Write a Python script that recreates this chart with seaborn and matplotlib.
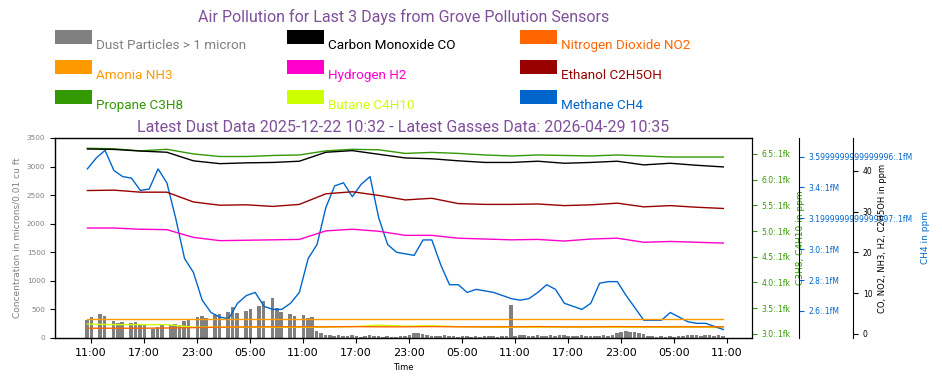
import pandas as pd
import seaborn as sns
import matplotlib.pyplot as plt
import matplotlib.dates as mdates
import matplotlib.patches as mpatches
from matplotlib.legend_handler import HandlerPatch
from matplotlib.ticker import FixedLocator, FixedFormatter

# dust sensor, every 30 min (microns / 0.01 cu ft)
dust_start = "2026-04-26 10:32"
dust = [320, 360, 0, 420, 380, 0, 300,
        270, 280, 0, 260, 280, 250,
        230, 0, 150, 200, 240, 0, 220, 250, 230,
        300, 320, 0,
        360, 380, 350, 0,
        400, 420, 0, 450, 550, 430, 0, 480,
        500, 0, 560, 650, 0, 700, 520,
        450, 0, 420, 380, 0, 400, 350, 370,
        120, 80, 60, 50, 40, 60, 40, 30, 50, 30, 20, 40, 60, 40, 30, 20, 30, 20, 20,
        30, 40,
        60, 80, 90, 70, 50, 40,
        40, 30, 50, 40, 30, 20, 30, 40, 20, 30, 20, 30, 40, 30, 20, 30, 40,
        580,
        40, 60, 50, 40, 30, 50, 40, 30, 50, 40, 60, 50, 40, 30,
        40, 50, 30, 40, 30, 40, 50, 40, 60, 80,
        110, 120, 100, 110, 90, 70,
        40, 30, 20, 30, 20, 30, 20, 30, 40,
        50, 60, 50, 40, 50, 60, 40, 50, 30]

# gas sensors, every 3 h (ppm)
gas_start = "2026-04-26 10:35"
propane = [6.61, 6.60, 6.56, 6.59, 6.50, 6.45, 6.45, 6.47, 6.48, 6.56, 6.59, 6.58, 6.51,
           6.53, 6.51, 6.48, 6.46, 6.48, 6.47, 6.46, 6.48, 6.46, 6.44, 6.44, 6.44]
butane = [3.19, 3.18, 3.18, 3.18, 3.13, 3.13, 3.13, 3.13, 3.13, 3.13, 3.14, 3.17, 3.15,
          3.16, 3.14, 3.13, 3.13, 3.13, 3.13, 3.13, 3.13, 3.13, 3.13, 3.13, 3.12]
co = [45.4, 45.3, 44.9, 44.6, 42.5, 41.8, 42.0, 42.1, 42.4, 44.6, 45.0, 44.1, 43.2,
      43.0, 42.5, 42.1, 42.1, 42.4, 41.9, 42.1, 42.4, 41.5, 41.9, 41.4, 41.0]
ethanol = [35.2, 35.3, 34.8, 34.8, 32.4, 31.6, 31.7, 31.3, 31.8, 34.4, 34.9, 34.0, 32.9,
           33.3, 32.0, 31.8, 31.8, 31.9, 31.5, 31.7, 32.1, 31.2, 31.5, 31.1, 30.8]
hydrogen = [26.0, 26.0, 25.7, 25.6, 23.7, 22.9, 23.0, 23.1, 23.2, 25.3, 25.7, 25.2, 24.2,
            24.2, 23.5, 23.3, 23.1, 23.2, 22.8, 23.3, 23.5, 22.5, 22.7, 22.5, 22.3]
ammonia = [3.6, 3.6, 3.6, 3.6, 3.6, 3.6, 3.6, 3.6, 3.6, 3.6, 3.6, 3.6, 3.6,
           3.6, 3.6, 3.6, 3.6, 3.6, 3.6, 3.6, 3.6, 3.6, 3.6, 3.6, 3.6]
no2 = [1.4, 1.4, 1.4, 1.45, 1.55, 1.65, 1.7, 1.75, 1.75, 1.75, 1.8, 1.75, 1.75,
       1.8, 1.75, 1.75, 1.75, 1.8, 1.75, 1.75, 1.8, 1.75, 1.75, 1.75, 1.75]

# methane, hourly (ppm)
methane = [3.52, 3.59, 3.64, 3.51, 3.47, 3.46, 3.38, 3.39, 3.52, 3.43,
           3.20, 2.94, 2.85, 2.67, 2.59, 2.56, 2.55, 2.65, 2.70, 2.72,
           2.63, 2.61, 2.61, 2.65, 2.72, 2.94, 3.03, 3.27, 3.41, 3.43,
           3.34, 3.42, 3.47, 3.20, 3.03, 2.98, 2.97, 2.96, 3.06, 3.06,
           2.90, 2.77, 2.77, 2.72, 2.74, 2.73, 2.72, 2.70, 2.68, 2.67,
           2.68, 2.72, 2.77, 2.74, 2.65, 2.63, 2.61, 2.65, 2.78, 2.79,
           2.79, 2.70, 2.62, 2.54, 2.54, 2.54, 2.59, 2.56, 2.53, 2.52,
           2.52, 2.50, 2.48]

c3_ticks = [3.0, 3.5, 4.0, 4.5, 5.0, 5.5, 6.0, 6.5]
c3_labels = ["3.0:.1fk", "3.5:.1fk", "4.0:.1fk", "4.5:.1fk", "5.0:.1fk", "5.5:.1fk", "6.0:.1fk", "6.5:.1fk"]
ch4_ticks = [2.6, 2.8, 3.0, 3.2, 3.4, 3.6]
ch4_labels = ["2.6:.1fM", "2.8:.1fM", "3.0:.1fM", "3.1999999999999997:.1fM", "3.4:.1fM",
              "3.5999999999999996:.1fM"]

names = [["Dust Particles > 1 micron", "Amonia NH3", "Propane C3H8"],
         ["Carbon Monoxide CO", "Hydrogen H2", "Butane C4H10"],
         ["Nitrogen Dioxide NO2", "Ethanol C2H5OH", "Methane CH4"]]
colors = [["gray", "#ff9900", "#339900"],
          ["black", "#ff00cc", "#ccff00"],
          ["#ff6600", "#990000", "#0066cc"]]
purple = "#7f4f9a"


class RaisedPatch(HandlerPatch):
    # legend box sits higher than its label, as in the original
    def create_artists(self, legend, orig_handle, xdescent, ydescent, width, height, fontsize, trans):
        p = mpatches.Rectangle((-xdescent, -ydescent + 5.5), width, height,
                               facecolor=orig_handle.get_facecolor(), edgecolor="none", transform=trans)
        return [p]


dust_t = pd.date_range(dust_start, periods=len(dust), freq="30min")
gas_t = pd.date_range(gas_start, periods=len(propane), freq="3h")
ch4_t = pd.date_range(gas_start, periods=len(methane), freq="1h")

fig, ax = plt.subplots(figsize=(9.42, 3.85), dpi=100)
fig.subplots_adjust(left=55/942, right=752/942, bottom=47/385, top=247/385)

ax.bar(dust_t, dust, width=0.017, color="gray", linewidth=0)
ax.set_ylim(0, 3500)
ax.set_yticks(range(0, 3501, 500))
ax.tick_params(axis="y", labelsize=5.2, labelcolor="gray")
ax.set_ylabel("Concentration in microns/0.01 cu ft", color="gray", fontsize=6.5)
ax.set_xlabel("Time", fontsize=6)
ax.tick_params(axis="x", labelsize=8)

ax_g = ax.twinx()
sns.lineplot(x=gas_t, y=propane, ax=ax_g, color="#339900", linewidth=1, legend=False)
sns.lineplot(x=gas_t, y=butane, ax=ax_g, color="#ccff00", linewidth=1, legend=False)
ax_g.set_ylim(2.92, 6.81)
ax_g.yaxis.set_major_locator(FixedLocator(c3_ticks))
ax_g.yaxis.set_major_formatter(FixedFormatter(c3_labels))
ax_g.tick_params(axis="y", labelsize=5.5, colors="#339900")
ax_g.set_ylabel("C3H8, C4H10 in ppm", color="#339900", fontsize=6.5)

ax_b = ax.twinx()
ax_b.spines["right"].set_position(("axes", 1 + 47/697))
sns.lineplot(x=ch4_t, y=methane, ax=ax_b, color="#0066cc", linewidth=1, legend=False)
ax_b.set_ylim(2.425, 3.72)
ax_b.yaxis.set_major_locator(FixedLocator(ch4_ticks))
ax_b.yaxis.set_major_formatter(FixedFormatter(ch4_labels))
ax_b.tick_params(axis="y", labelsize=5.5, colors="#0066cc")
ax_b.set_ylabel("CH4 in ppm", color="#0066cc", fontsize=6.5, labelpad=6)

ax_k = ax.twinx()
ax_k.spines["right"].set_position(("axes", 1 + 101/697))
for vals, col in [(co, "black"), (ethanol, "#990000"), (hydrogen, "#ff00cc"),
                  (ammonia, "#ff9900"), (no2, "#ff6600")]:
    sns.lineplot(x=gas_t, y=vals, ax=ax_k, color=col, linewidth=1, legend=False)
ax_k.set_ylim(-1, 48.1)
ax_k.set_yticks([0, 10, 20, 30, 40])
ax_k.tick_params(axis="y", labelsize=5.5)
ax_k.set_ylabel("CO, NO2, NH3, H2, C2H5OH in ppm", fontsize=6)

ax.set_xlim(pd.Timestamp("2026-04-26 06:55"), pd.Timestamp("2026-04-29 13:50"))
ax.xaxis.set_major_locator(mdates.HourLocator(byhour=[5, 11, 17, 23]))
ax.xaxis.set_major_formatter(mdates.DateFormatter("%H:%M"))

ax.set_title("Latest Dust Data 2025-12-22 10:32 - Latest Gasses Data: 2026-04-29 10:35",
             color=purple, fontsize=11.5, family="Roboto", pad=4)
fig.text((55 + 752) / 2 / 942, 1 - 17/385, "Air Pollution for Last 3 Days from Grove Pollution Sensors",
         ha="center", va="center", color=purple, fontsize=11.5, family="Roboto")

col_x = [55, 287, 520]
for i in range(3):
    handles = [mpatches.Patch(color=c) for c in colors[i]]
    fig.legend(handles, names[i], loc="upper left",
               bbox_to_anchor=((col_x[i] - 5.4) / 942, 1 - 32.0/385),
               frameon=False, prop={"family": "Roboto", "size": 9.7},
               labelcolor=colors[i], handlelength=2.74, handleheight=1.26,
               handletextpad=0.3, labelspacing=1.15, borderaxespad=0,
               handler_map={mpatches.Patch: RaisedPatch()})

plt.savefig("out.png", dpi=100)
